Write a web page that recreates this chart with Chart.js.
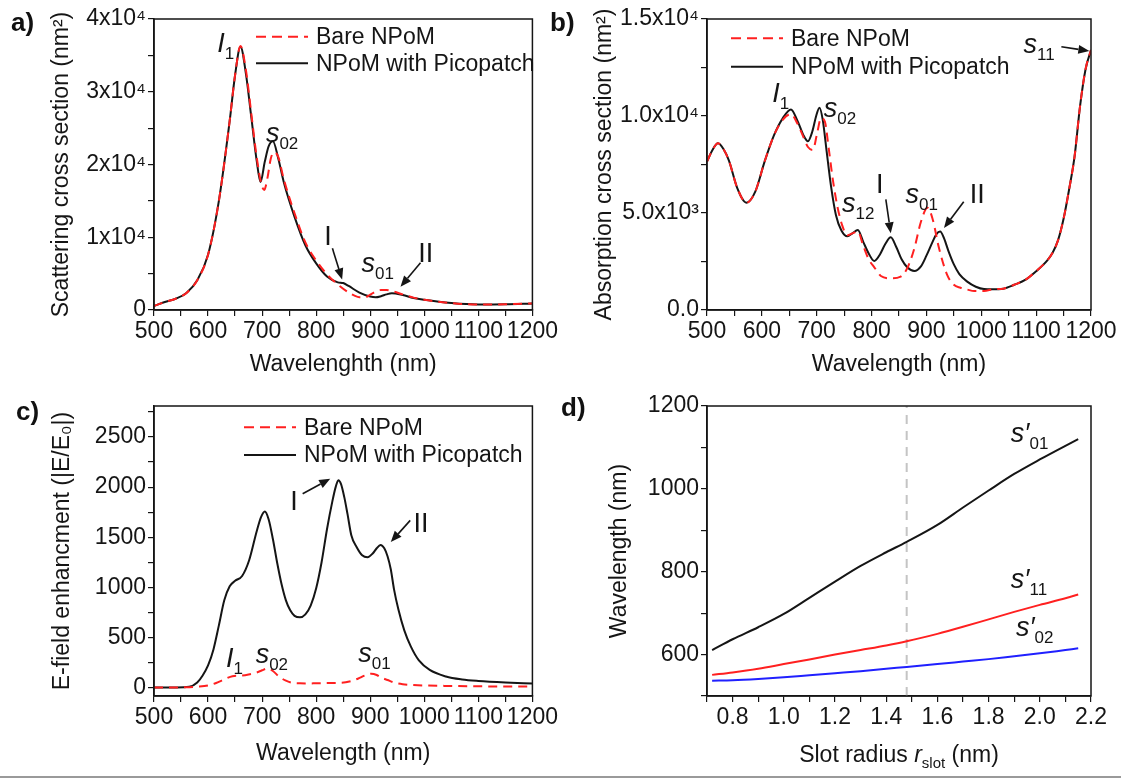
<!DOCTYPE html>
<html>
<head>
<meta charset="utf-8">
<script src="https://cdn.jsdelivr.net/npm/chart.js@4.4.1/dist/chart.umd.min.js"></script>
<style>
  body { margin: 0; background: #fff; width: 1121px; height: 778px; position: relative; overflow: hidden;
         font-family: "Liberation Sans", Arial, sans-serif; }
  .panel { position: absolute; }
  .tag { position: absolute; font-weight: bold; font-size: 26px; line-height: 1; color: #111; }
  .rule { position: absolute; left: 0; top: 776px; width: 1121px; height: 2px; background: #9a9a9a; }
</style>
</head>
<body>
<div class="panel" style="left:0;top:0"><canvas id="ca" width="560" height="390"></canvas></div>
<div class="panel" style="left:560px;top:0"><canvas id="cb" width="561" height="390"></canvas></div>
<div class="panel" style="left:0;top:390px"><canvas id="cc" width="560" height="386"></canvas></div>
<div class="panel" style="left:560px;top:390px"><canvas id="cd" width="561" height="386"></canvas></div>
<div class="tag" style="left:11px;top:9px">a)</div>
<div class="tag" style="left:550px;top:9px">b)</div>
<div class="tag" style="left:16px;top:398px">c)</div>
<div class="tag" style="left:561px;top:394px">d)</div>
<div class="rule"></div>
<script>
// ---- data ----
// a) scattering cross section (nm^2)
const waveA = [500,520,540,560,580,600,620,640,650,660,670,680,690,697,705,712,720,730,740,760,780,800,820,840,850,860,880,900,910,920,930,940,960,980,1000,1050,1100,1150,1200];
const scatPicopatch = [550,1100,1550,2350,4100,7600,15000,26000,32300,36200,32500,26500,20500,17600,20400,22500,23200,20800,17600,12800,8900,6400,4600,3800,3700,3300,2400,1850,1750,1900,2150,2300,2050,1650,1400,950,750,780,900];
const waveABare = [500,520,540,560,580,600,620,640,650,660,670,680,690,698,704,710,716,722,730,740,760,780,800,820,840,860,870,880,890,900,910,920,930,940,960,980,1000,1050,1100,1150,1200];
const scatBare = [550,1100,1550,2350,4100,7600,15000,26000,32300,36300,33000,27000,21000,17500,16500,18200,20800,21700,21000,18000,13300,9300,6800,4900,3500,2400,2000,1750,1750,2100,2550,2750,2750,2600,2150,1700,1400,950,750,780,900];

// b) absorption cross section (nm^2)
const waveB = [500,510,520,530,540,555,572,588,605,622,638,653,665,676,684,692,699,705,711,718,726,735,745,756,765,775,785,795,805,815,825,835,845,855,865,878,890,900,911,918,925,932,940,950,960,975,990,1005,1020,1040,1060,1080,1100,1120,1130,1140,1150,1160,1170,1180,1190,1200];
const absPicopatch = [7650,8250,8590,8300,7700,6300,5530,6100,7650,9000,9880,10340,9750,9000,8700,9200,10000,10430,9800,8200,6400,4900,4100,3800,3950,4120,3500,2900,2525,2850,3400,3750,3250,2600,2200,2010,2250,2800,3500,3900,4040,3700,3050,2350,1850,1450,1200,1080,1070,1100,1300,1550,2000,2550,2950,3600,4700,6200,7900,10500,12400,13400];
const waveBBare = [500,510,520,530,540,555,572,588,605,622,638,653,665,676,684,693,700,708,715,722,730,738,746,756,765,775,785,795,805,817,835,853,865,878,890,902,911,923,938,950,962,975,987,1005,1023,1040,1060,1080,1100,1120,1130,1140,1150,1160,1170,1180,1190,1200];
const absBare = [7650,8250,8590,8300,7700,6300,5530,6100,7650,9000,9800,10100,9600,8900,8400,8250,9000,9900,9700,8300,6600,5300,4400,3850,3950,4050,3300,2600,2200,1750,1630,1720,2150,3180,4550,5270,4720,3180,1800,1300,1150,1050,980,980,1080,1100,1300,1550,2000,2550,2950,3600,4700,6200,7900,10500,12400,13400];

// c) E-field enhancement |E/E0|
const waveC = [500,540,565,580,590,600,610,620,630,640,650,663,676,690,698,705,712,720,728,736,744,752,760,770,780,790,800,810,820,830,836,841,846,852,858,865,875,885,895,905,912,919,926,932,938,944,952,963,975,990,1010,1040,1070,1100,1150,1200];
const fieldPicopatch = [0,1,7,50,120,220,380,620,870,1010,1065,1113,1270,1560,1700,1757,1680,1480,1240,1030,870,770,715,700,730,820,990,1250,1580,1860,2000,2070,2030,1900,1730,1520,1400,1320,1300,1340,1390,1423,1390,1310,1180,980,780,570,410,270,175,110,80,65,50,40];
const waveCBare = [500,560,580,600,615,630,645,660,675,690,700,710,720,731,743,755,770,786,800,820,847,865,878,890,902,912,920,932,944,960,980,1000,1050,1091,1150,1200];
const fieldBare = [0,2,8,20,45,80,113,118,130,150,172,190,165,110,70,47,42,40,42,44,47,65,90,120,138,125,100,75,50,33,25,20,15,12,10,10];

// d) mode wavelength (nm) vs slot radius (nm)
const slotRadius = [0.72,0.8,0.9,1.0,1.1,1.2,1.3,1.4,1.48,1.6,1.7,1.8,1.9,2.0,2.1,2.15];
const modeS01 = [611,637,666,698,737,776,814,847,872,913,955,996,1036,1071,1104,1120];
const modeS11 = [551,557,566,577,588,600,611,622,632,650,667,685,703,720,736,745];
const modeS02 = [537,538,541,545,550,555,560,566,570,577,583,589,596,603,611,615];
const slotMark = 1.48;

const wlTicks = [500, 1200, 50];   // min, max, step
const slotTicks = [0.7, 2.2, 0.1];

// ---- styling ----
const FONT = '"Liberation Sans", Arial, sans-serif';
const INK = '#151515';
const RED = '#ff2020';
const BLUE = '#2020ff';
Chart.defaults.font.family = FONT;
Chart.defaults.color = INK;

function pts(xs, ys) {
  return xs.map((x, i) => ({ x: x, y: ys[i] }));
}

function line(xs, ys, color, dash) {
  return {
    data: pts(xs, ys), borderColor: color, borderWidth: 2, borderDash: dash || [],
    pointRadius: 0, cubicInterpolationMode: 'monotone', fill: false
  };
}

function axis(o) {
  return {
    type: 'linear', min: o.min, max: o.max,
    afterFit: o.fit,
    border: { color: INK, width: 1.5 },
    grid: { drawOnChartArea: false, tickLength: 6, color: INK, lineWidth: 1.2 },
    ticks: { stepSize: o.step, autoSkip: false, maxRotation: 0, includeBounds: false,
             padding: 2, color: INK, font: { size: 23 }, callback: o.label },
    title: o.title ? { display: true, text: o.title, color: INK, font: { size: 23 }, padding: o.pad }
                   : { display: false }
  };
}

function rich(ctx, x, y, parts, center) {
  let w = 0;
  parts.forEach(p => {
    ctx.font = (p.italic ? 'italic ' : '') + p.size + 'px ' + FONT;
    p.w = ctx.measureText(p.t).width;
    w += p.w;
  });
  let cx = center ? x - w / 2 : x;
  parts.forEach(p => {
    ctx.font = (p.italic ? 'italic ' : '') + p.size + 'px ' + FONT;
    ctx.fillText(p.t, cx, y + (p.dy || 0));
    cx += p.w;
  });
}

function arrow(ctx, x1, y1, x2, y2) {
  const ang = Math.atan2(y2 - y1, x2 - x1), h = 11, w = 4.5;
  const bx = x2 - h * Math.cos(ang), by = y2 - h * Math.sin(ang);
  ctx.lineWidth = 1.6;
  ctx.beginPath(); ctx.moveTo(x1, y1); ctx.lineTo(bx, by); ctx.stroke();
  ctx.beginPath();
  ctx.moveTo(x2, y2);
  ctx.lineTo(bx - w * Math.sin(ang), by + w * Math.cos(ang));
  ctx.lineTo(bx + w * Math.sin(ang), by - w * Math.cos(ang));
  ctx.closePath(); ctx.fill();
}

// frame, legend, peak labels and arrows, all placed through the chart scales
function notes(cfg) {
  return {
    id: 'notes',
    afterDraw(chart) {
      const { ctx, chartArea: a, scales } = chart;
      const sx = scales.x, sy = scales.y;
      ctx.save();
      ctx.strokeStyle = INK; ctx.fillStyle = INK; ctx.lineWidth = 1.5;
      ctx.strokeRect(a.left, a.top, a.right - a.left, a.bottom - a.top);

      if (cfg.legend) {
        const L = cfg.legend;
        [[RED, [10, 6], 'Bare NPoM'], [INK, [], 'NPoM with Picopatch']].forEach((it, i) => {
          const y = a.top + L.rows[i];
          ctx.strokeStyle = it[0]; ctx.lineWidth = 2; ctx.setLineDash(it[1]);
          ctx.beginPath(); ctx.moveTo(a.left + L.dx, y); ctx.lineTo(a.left + L.dx + 52, y); ctx.stroke();
          ctx.setLineDash([]);
          ctx.fillStyle = INK; ctx.textBaseline = 'middle';
          ctx.font = '23px ' + FONT;
          ctx.fillText(it[2], a.left + L.dx + 60, y + 1);
        });
      }

      ctx.textBaseline = 'alphabetic'; ctx.fillStyle = INK; ctx.strokeStyle = INK; ctx.setLineDash([]);
      (cfg.labels || []).forEach(l => {
        const parts = [{ t: l.t, size: 27, italic: l.it }];
        if (l.sub) parts.push({ t: l.sub, size: 17, dy: 7 });
        rich(ctx, sx.getPixelForValue(l.x), sy.getPixelForValue(l.y), parts);
      });
      (cfg.arrows || []).forEach(r => {
        arrow(ctx, sx.getPixelForValue(r[0]), sy.getPixelForValue(r[1]),
                   sx.getPixelForValue(r[2]), sy.getPixelForValue(r[3]));
      });
      if (cfg.xTitle) {
        rich(ctx, (a.left + a.right) / 2, chart.height - 14, cfg.xTitle, true);
      }
      ctx.restore();
    }
  };
}

function makeChart(id, box, datasets, xOpt, yOpt, extra) {
  const W = box.w, H = box.h;
  xOpt.fit = s => { s.height = H - box.b; };
  yOpt.fit = s => { s.width = box.l; };
  return new Chart(document.getElementById(id), {
    type: 'line',
    data: { datasets: datasets },
    options: {
      responsive: false, devicePixelRatio: 1, animation: false, events: [],
      layout: { padding: { left: 0, top: box.t, right: W - box.r, bottom: 0 } },
      plugins: { legend: { display: false }, tooltip: { enabled: false } },
      scales: { x: axis(xOpt), y: axis(yOpt) }
    },
    plugins: [notes(extra)]
  });
}

const wlLabel = v => (v % 100 === 0 ? String(v) : '');

// a)
makeChart('ca', { w: 560, h: 390, l: 154, t: 19, r: 536, b: 310 },
  [line(waveABare, scatBare, RED, [9, 6]), line(waveA, scatPicopatch, INK)],
  { min: wlTicks[0], max: wlTicks[1], step: wlTicks[2], label: wlLabel,
    title: 'Wavelenghth (nm)', pad: { bottom: 12 } },
  { min: 0, max: 40000, step: 5000,
    label: v => (v === 0 ? '0' : v % 10000 === 0 ? (v / 10000) + 'x10\u2074' : ''),
    title: 'Scattering cross section (nm\u00B2)', pad: { top: 48 } },
  {
    legend: { dx: 102, rows: [17.7, 44.3] },
    labels: [
      { x: 617, y: 35500, t: 'I', sub: '1', it: true },
      { x: 707, y: 23100, t: 's', sub: '02', it: true },
      { x: 815, y: 8900, t: 'I' },
      { x: 884, y: 5200, t: 's', sub: '01', it: true },
      { x: 989, y: 6600, t: 'II' }
    ],
    arrows: [[830, 8500, 848, 4200], [993, 6500, 956, 3200]]
  });

// b)
makeChart('cb', { w: 561, h: 390, l: 147, t: 19, r: 531, b: 310 },
  [line(waveBBare, absBare, RED, [9, 6]), line(waveB, absPicopatch, INK)],
  { min: wlTicks[0], max: wlTicks[1], step: wlTicks[2], label: wlLabel,
    title: 'Wavelength (nm)', pad: { bottom: 12 } },
  { min: 0, max: 15000, step: 2500,
    label: v => (v === 0 ? '0.0' : v % 5000 !== 0 ? '' :
                 v < 10000 ? (v / 1000).toFixed(1) + 'x10\u00B3' : (v / 10000).toFixed(1) + 'x10\u2074'),
    title: 'Absorption cross section (nm\u00B2)', pad: { top: 31 } },
  {
    legend: { dx: 24, rows: [19.3, 47.7] },
    labels: [
      { x: 619, y: 10720, t: 'I', sub: '1', it: true },
      { x: 713, y: 9950, t: 's', sub: '02', it: true },
      { x: 746, y: 5050, t: 's', sub: '12', it: true },
      { x: 808, y: 6030, t: 'I' },
      { x: 862, y: 5520, t: 's', sub: '01', it: true },
      { x: 979, y: 5520, t: 'II' },
      { x: 1077, y: 13250, t: 's', sub: '11', it: true }
    ],
    arrows: [[826, 5700, 835, 3950], [968, 5580, 932, 4230], [1146, 13570, 1197, 13350]]
  });

// c)
makeChart('cc', { w: 560, h: 386, l: 154, t: 16, r: 536, b: 306 },
  [line(waveCBare, fieldBare, RED, [9, 6]), line(waveC, fieldPicopatch, INK)],
  { min: wlTicks[0], max: wlTicks[1], step: wlTicks[2], label: wlLabel,
    title: 'Wavelength (nm)', pad: { bottom: 9 } },
  { min: -85, max: 2810, step: 250,
    label: v => (v % 500 === 0 ? String(v) : ''),
    title: 'E-field enhancment (|E/E\u2080|)', pad: { top: 49 } },
  {
    legend: { dx: 90, rows: [21.3, 49] },
    labels: [
      { x: 633, y: 205, t: 'I', sub: '1', it: true },
      { x: 688, y: 242, t: 's', sub: '02', it: true },
      { x: 878, y: 255, t: 's', sub: '01', it: true },
      { x: 752, y: 1768, t: 'I' },
      { x: 980, y: 1551, t: 'II' }
    ],
    arrows: [[775, 1934, 826, 2084], [974, 1668, 938, 1452]]
  });

// d)
makeChart('cd', { w: 561, h: 386, l: 147, t: 16, r: 531, b: 306 },
  [line(slotRadius, modeS01, INK), line(slotRadius, modeS11, RED), line(slotRadius, modeS02, BLUE),
   { data: [{ x: slotMark, y: 500 }, { x: slotMark, y: 1200 }], borderColor: '#c4c4c4',
     borderWidth: 2, borderDash: [9, 7], pointRadius: 0 }],
  { min: slotTicks[0], max: slotTicks[1], step: slotTicks[2],
    label: v => { const k = Math.round(v * 10); return k % 2 === 0 ? (k / 10).toFixed(1) : ''; } },
  { min: 500, max: 1200, step: 100,
    label: v => (v % 200 === 0 ? String(v) : ''),
    title: 'Wavelength (nm)', pad: { top: 46 } },
  {
    labels: [
      { x: 1.887, y: 1112, t: 's\u2032', sub: '01', it: true },
      { x: 1.887, y: 761, t: 's\u2032', sub: '11', it: true },
      { x: 1.907, y: 644, t: 's\u2032', sub: '02', it: true }
    ],
    xTitle: [
      { t: 'Slot radius ', size: 23 },
      { t: 'r', size: 23, italic: true },
      { t: 'slot', size: 15, dy: 6 },
      { t: ' (nm)', size: 23 }
    ]
  });
</script>
</body>
</html>
